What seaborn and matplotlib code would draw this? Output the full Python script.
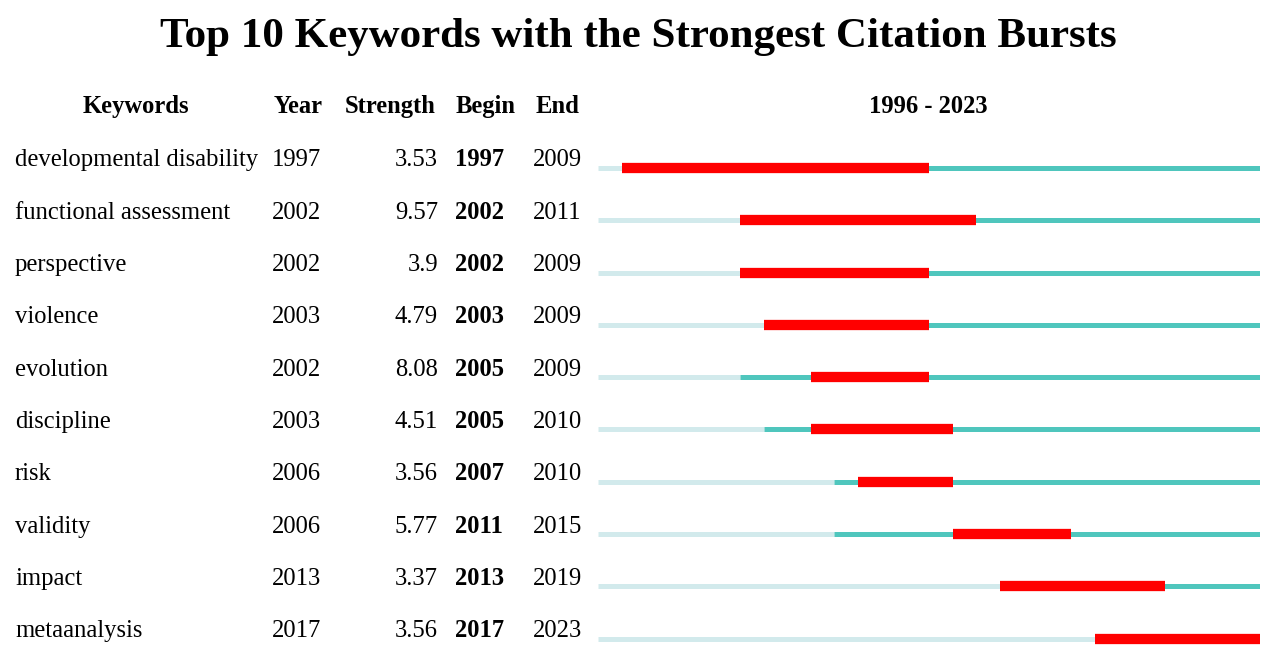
import matplotlib
matplotlib.use("Agg")
import matplotlib.pyplot as plt
import seaborn as sns
import pandas as pd

# burst table data
keywords = ["developmental disability", "functional assessment", "perspective",
            "violence", "evolution", "discipline", "risk", "validity",
            "impact", "metaanalysis"]
years = [1997, 2002, 2002, 2003, 2002, 2003, 2006, 2006, 2013, 2017]
strength = [3.53, 9.57, 3.9, 4.79, 8.08, 4.51, 3.56, 5.77, 3.37, 3.56]
begin = [1997, 2002, 2002, 2003, 2005, 2005, 2007, 2011, 2013, 2017]
end = [2009, 2011, 2009, 2009, 2009, 2010, 2010, 2015, 2019, 2023]
first_year, last_year = 1996, 2023

sns.set_theme(style="white")
plt.rcParams['font.family'] = ['Liberation Serif', 'DejaVu Serif']
plt.rcParams['text.color'] = 'black'
plt.rcParams['lines.solid_capstyle'] = 'butt'

W, H = 1274, 656
row0, step = 158, 52.3
ytop = -row0 / step
ybot = (H - row0) / step

fig = plt.figure(figsize=(W / 100, H / 100), dpi=100)
fig.patch.set_facecolor('white')

# text table axes, x in pixels
tx = fig.add_axes([0, 0, 1, 1])
tx.set_xlim(0, W)
tx.set_ylim(ybot, ytop)
tx.axis('off')

fs = 17.7
base = 8.5 / step  # baseline sits a bit below row centre
tx.text(638, (37 - row0) / step, "Top 10 Keywords with the Strongest Citation Bursts",
        ha='center', va='center', fontsize=31, fontweight='bold')
hy = (105 - row0) / step + base
for x, lab in [(136, "Keywords"), (298, "Year"), (390, "Strength"),
               (486, "Begin"), (557, "End"), (928, f"{first_year} - {last_year}")]:
    tx.text(x, hy, lab, ha='center', va='baseline', fontsize=fs, fontweight='bold')

for i, kw in enumerate(keywords):
    y = i + base
    tx.text(15, y, kw, ha='left', va='baseline', fontsize=fs)
    tx.text(272, y, str(years[i]), ha='left', va='baseline', fontsize=fs)
    tx.text(438, y, f"{strength[i]:g}", ha='right', va='baseline', fontsize=fs)
    tx.text(455, y, str(begin[i]), ha='left', va='baseline', fontsize=fs, fontweight='bold')
    tx.text(533, y, str(end[i]), ha='left', va='baseline', fontsize=fs)

# timeline segments
rows = []
off = 10 / step
for i in range(len(keywords)):
    y = i + off
    segs = [("before", first_year, years[i]),
            ("after", years[i], last_year + 1),
            ("burst", begin[i], end[i] + 1)]
    for kind, a, b in segs:
        if b > a:
            rows.append(dict(seg=f"{i}-{kind}", kind=kind, x=a, y=y))
            rows.append(dict(seg=f"{i}-{kind}", kind=kind, x=b, y=y))
df = pd.DataFrame(rows)

ax = fig.add_axes([598 / W, 0, 662 / W, 1])
ax.set_facecolor('none')
sns.lineplot(data=df, x='x', y='y', hue='kind', units='seg', estimator=None,
             size='kind', sizes={"before": 3.6, "after": 3.6, "burst": 7.4},
             hue_order=["before", "after", "burst"],
             palette={"before": "#d2eaec", "after": "#4fc6bd", "burst": "#ff0000"},
             sort=False, legend=False, ax=ax)
ax.set_xlim(first_year, last_year + 1)
ax.set_ylim(ybot, ytop)
ax.axis('off')

fig.savefig("out.png", dpi=100, facecolor='white')
